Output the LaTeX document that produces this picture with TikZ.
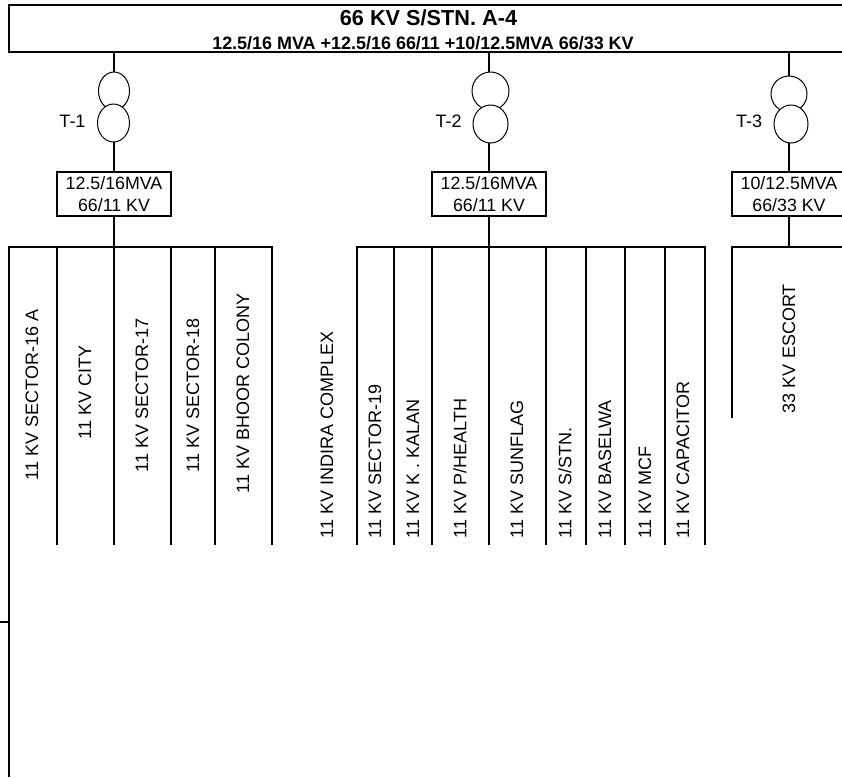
\documentclass[tikz,border=0pt]{standalone}
\usepackage{fontspec}
\setmainfont{Liberation Sans}
\usetikzlibrary{shapes.geometric}
\begin{document}
\begin{tikzpicture}[x=1pt,y=-1pt,inner sep=0pt,outer sep=0pt,line width=1.8pt,
txbox/.style={draw,rectangle,minimum width=114pt,minimum height=44pt,align=center,font=\fontsize{17.8}{22}\selectfont},
coil/.style={draw,ellipse,fill=white,line width=1pt},
plain/.style={font=\fontsize{18}{22}\selectfont},
feeder/.style={plain,rotate=90,anchor=west}]
\useasboundingbox (0,0) rectangle (842,777);

\draw (428.5,28.5) node[draw,rectangle,minimum width=839pt,minimum height=47pt] (bus66) {};
\draw (428.5,18) node[font=\bfseries\fontsize{21.7}{26}\selectfont] (title) {66 KV S/STN. A-4};
\draw (423,43) node[font=\bfseries\fontsize{17.95}{20}\selectfont] (rating) {12.5/16 MVA +12.5/16 66/11 +10/12.5MVA 66/33 KV};

% transformers
\draw (114,91) node[coil,minimum width=31pt,minimum height=38pt] (T1a) {};
\draw (113.5,123) node[coil,minimum width=32pt,minimum height=38pt] (T1b) {};
\draw (490.5,91) node[coil,minimum width=37pt,minimum height=38pt] (T2a) {};
\draw (490.5,124) node[coil,minimum width=35pt,minimum height=38pt] (T2b) {};
\draw (789,94) node[coil,minimum width=36pt,minimum height=36pt] (T3a) {};
\draw (791,124) node[coil,minimum width=34pt,minimum height=38pt] (T3b) {};
\draw (72.5,121) node[plain] (T1) {T-1};
\draw (448.5,121) node[plain] (T2) {T-2};
\draw (749,121) node[plain] (T3) {T-3};

\draw (114,194) node[txbox] (box1) {12.5/16MVA\\66/11 KV};
\draw (489,194) node[txbox] (box2) {12.5/16MVA\\66/11 KV};
\draw (789,194) node[txbox] (box3) {10/12.5MVA\\66/33 KV};

\coordinate (busA) at (114,247);
\coordinate (busB) at (489,247);
\coordinate (busC) at (789,247);

\draw (bus66.south -| T1a) -- (T1a.north);
\draw (T1b.south -| busA) -- (box1.north -| busA);
\draw (box1.south -| busA) -- (busA);
\draw (bus66.south -| busB) -- (T2a.north -| busB);
\draw (T2b.south -| busB) -- (box2.north);
\draw (box2) -- (busB);
\draw (bus66.south -| busC) -- (T3a.north);
\draw (T3b.south -| busC) -- (box3.north);
\draw (box3) -- (busC);

% bus bars
\draw[line cap=rect] (9,247) coordinate (busAl) -- (272,247) coordinate (busAr);
\draw[line cap=rect] (357,247) coordinate (busBl) -- (705,247) coordinate (busBr);
\draw[line cap=rect] (732,247) coordinate (busCl) -- (842,247) coordinate (busCr);

\foreach \x in {57,114,171,215,272,357,394,432,489,546,586,625,665,705}
  \draw (\x,247) -- (\x,545);
\draw (busAl) -- (9,777) coordinate (leftEnd);
\draw (0,622) coordinate (stub) -- (stub -| leftEnd);
\draw (busCl) -- (732,418) coordinate (escortEnd);

% feeder labels
\foreach \x/\y/\name in {32/480/11 KV SECTOR-16 A,85/439/11 KV CITY,142/472/11 KV SECTOR-17,193/472/11 KV SECTOR-18,243/493/11 KV BHOOR COLONY,327/538/11 KV INDIRA COMPLEX,375/538/11 KV SECTOR-19,413/538/11 KV K . KALAN,460/538/{11 KV P/HEALTH},517/538/11 KV SUNFLAG,565/538/{11 KV S/STN.},605/538/11 KV BASELWA,645/538/11 KV MCF,683/538/11 KV CAPACITOR,789/413/33 KV ESCORT}
  \draw (\x,\y) node[feeder] (lbl\x) {\name};
\end{tikzpicture}
\end{document}
